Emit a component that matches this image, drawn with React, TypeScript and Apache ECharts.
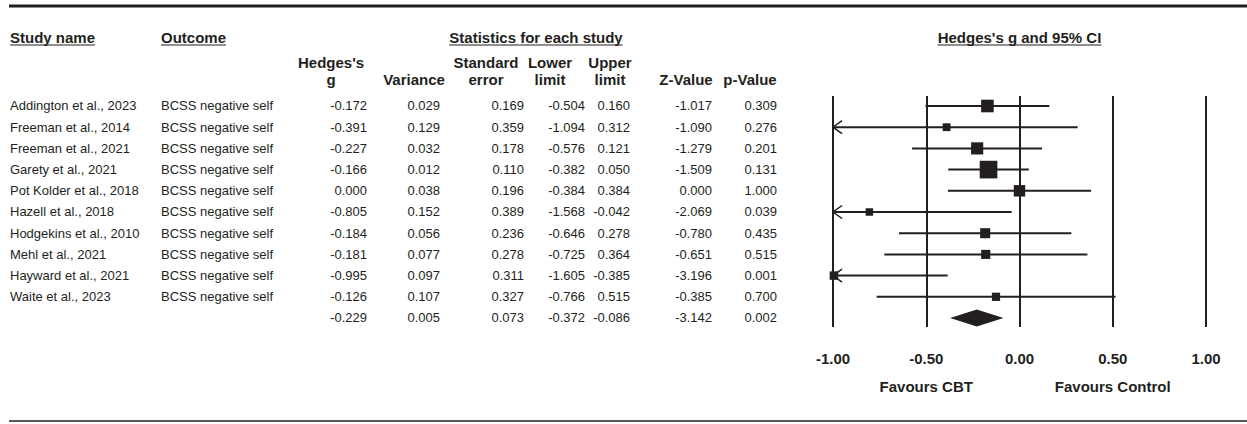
import React, { useEffect, useRef } from "react";
import * as echarts from "echarts";

const studies = [
  "Addington et al., 2023",
  "Freeman et al., 2014",
  "Freeman et al., 2021",
  "Garety et al., 2021",
  "Pot Kolder et al., 2018",
  "Hazell et al., 2018",
  "Hodgekins et al., 2010",
  "Mehl et al., 2021",
  "Hayward et al., 2021",
  "Waite et al., 2023",
];
const outcomes = [
  "BCSS negative self",
  "BCSS negative self",
  "BCSS negative self",
  "BCSS negative self",
  "BCSS negative self",
  "BCSS negative self",
  "BCSS negative self",
  "BCSS negative self",
  "BCSS negative self",
  "BCSS negative self",
];
const hedgesG = [-0.172, -0.391, -0.227, -0.166, 0.0, -0.805, -0.184, -0.181, -0.995, -0.126];
const variance = [0.029, 0.129, 0.032, 0.012, 0.038, 0.152, 0.056, 0.077, 0.097, 0.107];
const stdErr = [0.169, 0.359, 0.178, 0.11, 0.196, 0.389, 0.236, 0.278, 0.311, 0.327];
const lowerLimit = [-0.504, -1.094, -0.576, -0.382, -0.384, -1.568, -0.646, -0.725, -1.605, -0.766];
const upperLimit = [0.16, 0.312, 0.121, 0.05, 0.384, -0.042, 0.278, 0.364, -0.385, 0.515];
const zValue = [-1.017, -1.09, -1.279, -1.509, 0.0, -2.069, -0.78, -0.651, -3.196, -0.385];
const pValue = [0.309, 0.276, 0.201, 0.131, 1.0, 0.039, 0.435, 0.515, 0.001, 0.7];
// summary row: g, variance, se, lower, upper, z, p
const summaryRow = [-0.229, 0.005, 0.073, -0.372, -0.086, -3.142, 0.002];
const xTicks = [-1, -0.5, 0, 0.5, 1];
const favourLabels = ["Favours CBT", "Favours Control"];
const favourAt = [-0.5, 0.5];

const INK = "#231f20";
const FONT = '"Liberation Sans", Arial, sans-serif';
const BOLD_SIZE = 15;

export default function App() {
  const ref = useRef<HTMLDivElement>(null);

  useEffect(() => {
    document.body.style.margin = "0";
    const chart = echarts.init(ref.current!, null, { renderer: "svg" });
    const Y_MIN = -0.4717;
    const Y_MAX = 10.425;

    const studyData = studies.map((_, i) => [i, hedgesG[i], lowerLimit[i], upperLimit[i], variance[i]]);
    const summaryData = [[studies.length, summaryRow[0], summaryRow[3], summaryRow[4]]];

    chart.setOption({
      animation: false,
      grid: { left: 833, top: 96, width: 373, height: 231 },
      xAxis: {
        type: "value",
        min: xTicks[0],
        max: xTicks[xTicks.length - 1],
        interval: 0.5,
        axisLine: { show: false },
        axisTick: { show: false },
        splitLine: { show: true, lineStyle: { color: INK, width: 2 } },
        axisLabel: {
          margin: 24,
          color: INK,
          fontFamily: FONT,
          fontSize: BOLD_SIZE,
          fontWeight: "bold",
          showMinLabel: true,
          showMaxLabel: true,
          formatter: (v: number) => v.toFixed(2),
        },
      },
      yAxis: { type: "value", inverse: true, min: Y_MIN, max: Y_MAX, show: false },
      series: [
        {
          type: "custom",
          clip: false,
          data: studyData,
          encode: { x: [1, 2, 3], y: 0 },
          renderItem: (params: any, api: any) => {
            const i = api.value(0);
            const g = api.value(1);
            const lo = api.value(2);
            const hi = api.value(3);
            const v = api.value(4);
            const pg = api.coord([g, i]);
            const y = pg[1];
            const xl = api.coord([Math.max(lo, -1), i])[0];
            const xh = api.coord([hi, i])[0];
            const s = 3.5 + 1.55 * Math.sqrt(1 / v);
            const children: any[] = [
              { type: "line", shape: { x1: xl, y1: y, x2: xh, y2: y }, style: { stroke: INK, lineWidth: 2 } },
            ];
            if (lo < -1) {
              children.push({
                type: "polyline",
                shape: { points: [[xl + 9, y - 6.5], [xl, y], [xl + 9, y + 6.5]] },
                style: { stroke: INK, lineWidth: 1.5, fill: null },
              });
            }
            children.push({
              type: "rect",
              shape: { x: pg[0] - s / 2, y: y - s / 2, width: s, height: s },
              style: { fill: INK },
            });
            return { type: "group", children };
          },
        },
        {
          type: "custom",
          clip: false,
          data: summaryData,
          encode: { x: [1, 2, 3], y: 0 },
          renderItem: (params: any, api: any) => {
            const i = api.value(0);
            const pg = api.coord([api.value(1), i]);
            const xl = api.coord([api.value(2), i])[0];
            const xh = api.coord([api.value(3), i])[0];
            const y = pg[1];
            return {
              type: "polygon",
              shape: { points: [[xl, y], [pg[0], y - 8.5], [xh, y], [pg[0], y + 8.5]] },
              style: { fill: INK },
            };
          },
        },
      ],
    });

    const ctx = document.createElement("canvas").getContext("2d")!;
    const measure = (s: string, font: string) => {
      ctx.font = font;
      return ctx.measureText(s).width;
    };
    const rowY = (i: number) => chart.convertToPixel({ gridIndex: 0 }, [0, i])[1];
    const colX = (v: number) => chart.convertToPixel({ gridIndex: 0 }, [v, 0])[0];

    const els: any[] = [];
    const hdrFont = `bold ${BOLD_SIZE}px ${FONT}`;
    const txt = (text: string, x: number, y: number, align: string, bold: boolean, size = 13) => {
      els.push({
        type: "text",
        x,
        y,
        style: {
          text,
          fill: INK,
          fontFamily: FONT,
          fontSize: size,
          fontWeight: bold ? "bold" : "normal",
          align,
          verticalAlign: "middle",
        },
      });
    };
    const underlined = (text: string, x: number, y: number, align: string) => {
      txt(text, x, y, align, true, BOLD_SIZE);
      const w = measure(text, hdrFont);
      const x0 = align === "center" ? x - w / 2 : x;
      els.push({
        type: "line",
        shape: { x1: x0, y1: y + 8, x2: x0 + w, y2: y + 8 },
        style: { stroke: INK, lineWidth: 1 },
      });
    };

    // rules
    els.push({ type: "line", shape: { x1: 9, y1: 6, x2: 1247, y2: 6 }, style: { stroke: INK, lineWidth: 3 } });
    els.push({ type: "line", shape: { x1: 9, y1: 421, x2: 1247, y2: 421 }, style: { stroke: INK, lineWidth: 1.5 } });

    // headers
    const H1 = 37;
    const H2 = 62;
    const H3 = 79;
    underlined("Study name", 10, H1, "left");
    underlined("Outcome", 161, H1, "left");
    underlined("Statistics for each study", 536, H1, "center");
    underlined("Hedges's g and 95% CI", colX(0), H1, "center");

    const colRight = [367, 440, 524, 585, 630, 712, 777];
    const hdrCenter = [331, 414, 486, 550, 610, 686, 750];
    const hdrTop = ["Hedges's", "", "Standard", "Lower", "Upper", "", ""];
    const hdrBottom = ["g", "Variance", "error", "limit", "limit", "Z-Value", "p-Value"];
    hdrTop.forEach((t, k) => t && txt(t, hdrCenter[k], H2, "center", true, BOLD_SIZE));
    hdrBottom.forEach((t, k) => txt(t, hdrCenter[k], H3, "center", true, BOLD_SIZE));

    const cols = [hedgesG, variance, stdErr, lowerLimit, upperLimit, zValue, pValue];
    studies.forEach((name, i) => {
      const y = rowY(i);
      txt(name, 10, y, "left", false);
      txt(outcomes[i], 161, y, "left", false);
      cols.forEach((arr, k) => txt(arr[i].toFixed(3), colRight[k], y, "right", false));
    });
    const ys = rowY(studies.length);
    summaryRow.forEach((v, k) => txt(v.toFixed(3), colRight[k], ys, "right", false));

    favourLabels.forEach((t, k) => txt(t, colX(favourAt[k]), 386, "center", true, BOLD_SIZE));

    chart.setOption({ graphic: els });

    return () => chart.dispose();
  }, []);

  return <div ref={ref} style={{ width: 1247, height: 424 }} />;
}
